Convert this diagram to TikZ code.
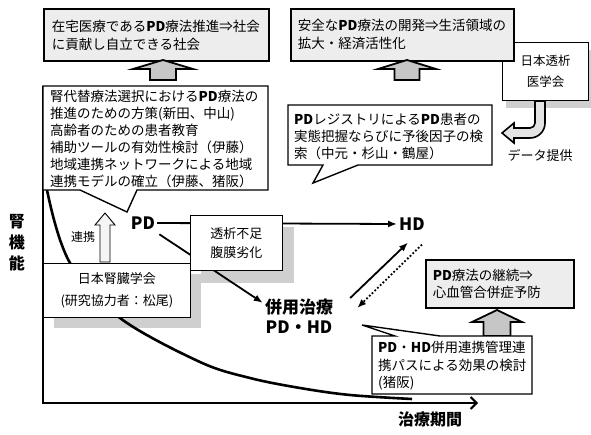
\documentclass[tikz,border=0pt]{standalone}
\usepackage{fontspec}
\setmainfont{Noto Sans CJK JP}
\usetikzlibrary{arrows.meta,calc}
\tikzset{
  goalbox/.style={draw, line width=1.8pt, fill=gray!14, anchor=north west, inner xsep=8pt, inner ysep=0pt, align=left, font=\fontsize{13.5}{18}\selectfont},
  callboxtext/.style={inner xsep=0pt, inner ysep=0pt, align=left},
  calloutline/.style={draw=black, line width=1.4pt, fill=white, line join=miter},
  thinbox/.style={draw, line width=0.8pt, fill=white, anchor=north west, inner sep=0pt, align=center},
  shadowfill/.style={fill=gray!38},
  blockarrow/.style={draw, line width=1.8pt, fill=gray!45, line join=miter},
  thinarrow/.style={draw, line width=0.9pt, fill=gray!8, line join=miter},
  bigtext/.style={font=\fontsize{17}{20}\selectfont\bfseries, inner sep=2pt, align=center},
  flow/.style={line width=1.8pt, -{Latex[length=9pt,width=7pt]}},
}
\begin{document}
\begin{tikzpicture}[x=1pt,y=-1pt]
\useasboundingbox (0,0) rectangle (591,434);

% shadows (drawn first)
\fill[shadowfill] (201,227) rectangle (294,283);
\fill[shadowfill] (54,274) rectangle (201,328);
\fill[shadowfill] (506,50) rectangle (591,108);

% axes
\coordinate (ytop) at (43,86);
\coordinate (origin) at (43,403);
\coordinate (xend) at (478,403);
\draw[line width=2pt, line join=miter, -{Straight Barb[length=6pt,width=12pt]}] (ytop) -- (origin) -- (xend);

% kidney function curve
\draw[line width=2.6pt] plot[smooth,tension=0.55] coordinates {(44.5,140) (47,190) (70,263) (120,318) (200,362) (250,378) (300,388) (350,395) (412,399)};

% main labels
\node[bigtext] (pd) at (143,223) {PD};
\node[bigtext] (hd) at (412,224) {HD};
\node[bigtext] (comb) at (299,316) {併用治療\\PD・HD};

% connectors
\draw[flow] (pd.east) -- (hd.west);
\draw[flow, shorten <=5pt] (pd.-35) -- (comb.160);
\draw[flow] ($(comb.east)+(15,-18)$) -- ($(hd.south)+(-4,10)$);
\draw[flow, dotted] ($(hd.south)+(10,12)$) -- ($(comb.east)+(22,-8)$);

% boxes with shadow
\node[thinbox, minimum width=92pt, minimum height=55pt, font=\fontsize{13}{19}\selectfont] (dialysis) at (190,215) {透析不足\\腹膜劣化};
\node[thinbox, minimum width=147pt, minimum height=54pt, font=\fontsize{13}{22}\selectfont] (jsn) at (43,263) {日本腎臓学会\\(研究協力者：松尾)};

% renkei arrow
\draw[thinarrow] (105,213) -- ++(10,12) -- ++(-5,0) -- ++(0,37) -- ++(-10,0) -- ++(0,-37) -- ++(-5,0) -- cycle;
\node[font=\fontsize{12}{14}\selectfont, inner sep=1pt] (renkei) at (83,237) {連携};

% left callout
\coordinate (lcNW) at (43,86);
\coordinate (lcNE) at (268,86);
\coordinate (lcSE) at (268,190);
\coordinate (lcSW) at (43,190);
\coordinate (lcA) at (137,190);
\coordinate (lcTip) at (127,212);
\coordinate (lcB) at (80,190);
\draw[calloutline] (lcNW) -- (lcNE) -- (lcSE) -- (lcA) -- (lcTip) -- (lcB) -- (lcSW) -- cycle;
\node[callboxtext, anchor=west, font=\fontsize{13.5}{17}\selectfont] (lct) at (50,139) {腎代替療法選択における\textbf{PD}療法の\\推進のための方策(新田、中山)\\高齢者のための患者教育\\補助ツールの有効性検討（伊藤）\\地域連携ネットワークによる地域\\連携モデルの確立（伊藤、猪阪）};

% top-left goal
\node[goalbox, minimum width=225pt, minimum height=52pt, text width=209pt] (goal1) at (43,8) {在宅医療である\textbf{PD}療法推進⇒社会\\に貢献し自立できる社会};
\draw[blockarrow] (163,60) -- ++(30,9) -- ++(-17,0) -- ++(0,11) -- ++(-26,0) -- ++(0,-11) -- ++(-17,0) -- cycle;

% JSDT box (behind top-right goal)
\node[thinbox, line width=1pt, minimum width=86pt, minimum height=58pt, font=\fontsize{12.5}{21}\selectfont] (jsdt) at (502,42) {日本透析\\医学会};

% top-right goal
\node[goalbox, minimum width=223pt, minimum height=52pt, text width=209pt, inner xsep=7pt] (goal2) at (290,8) {安全な\textbf{PD}療法の開発⇒生活領域の\\拡大・経済活性化};
\draw[blockarrow] (407,60) -- ++(29,9) -- ++(-16.5,0) -- ++(0,11) -- ++(-25,0) -- ++(0,-11) -- ++(-16.5,0) -- cycle;

% curved data arrow
\draw[line width=1.6pt, fill=gray!22, line join=miter] (535,101) -- (535,123) arc[start angle=0,end angle=90,radius=5] -- (514,128) -- (514,123) -- (502,133) -- (514,143) -- (514,138) -- (530,138) arc[start angle=90,end angle=0,radius=15] -- (545,101) -- cycle;
\node[font=\fontsize{13}{15}\selectfont] (data) at (540,155) {データ提供};

% registry callout
\coordinate (rgNW) at (288,105);
\coordinate (rgNE) at (492,105);
\coordinate (rgSE) at (492,165);
\coordinate (rgSW) at (288,165);
\coordinate (rgA) at (358,165);
\coordinate (rgTip) at (313,183);
\coordinate (rgB) at (323,165);
\draw[calloutline] (rgNW) -- (rgNE) -- (rgSE) -- (rgA) -- (rgTip) -- (rgB) -- (rgSW) -- cycle;
\node[callboxtext, anchor=west, font=\fontsize{13.5}{17}\selectfont] (regt) at (294,136) {\textbf{PD}レジストリによる\textbf{PD}患者の\\実態把握ならびに予後因子の検\\索（中元・杉山・鶴屋）};

% PD continuation goal
\node[goalbox, line width=1.6pt, minimum width=148pt, minimum height=48pt, text width=134pt, inner xsep=7pt, font=\fontsize{13.5}{17}\selectfont] (goal3) at (425,259) {\textbf{PD}療法の継続⇒\\心血管合併症予防};
\draw[blockarrow] (497,310) -- ++(25,12) -- ++(-11.5,0) -- ++(0,14) -- ++(-27,0) -- ++(0,-14) -- ++(-11.5,0) -- cycle;

% PD-HD path callout
\coordinate (ptNW) at (372,336);
\coordinate (ptA) at (395,336);
\coordinate (ptTip) at (362,325);
\coordinate (ptB) at (440,336);
\coordinate (ptNE) at (532,336);
\coordinate (ptSE) at (532,394);
\coordinate (ptSW) at (372,394);
\draw[calloutline] (ptNW) -- (ptA) -- (ptTip) -- (ptB) -- (ptNE) -- (ptSE) -- (ptSW) -- cycle;
\node[callboxtext, anchor=west, font=\fontsize{13.5}{17.5}\selectfont] (patht) at (378,366) {\textbf{PD}・\textbf{HD}併用連携管理連\\携パスによる効果の検討\\(猪阪)};

% axis labels
\node[font=\fontsize{16}{21}\selectfont\bfseries, align=center] (kf) at (17,243) {腎\\機\\能};
\node[font=\fontsize{16}{18}\selectfont\bfseries] (period) at (430,419) {治療期間};
\end{tikzpicture}
\end{document}
